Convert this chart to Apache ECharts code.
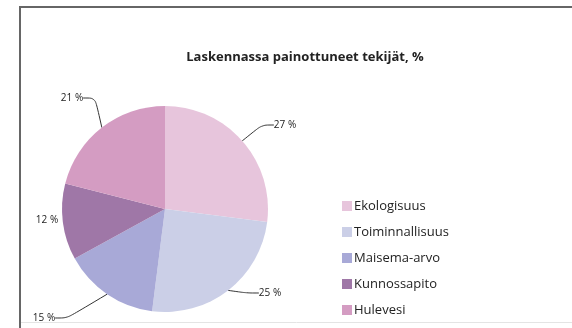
<!DOCTYPE html>
<html>
<head>
<meta charset="utf-8">
<script src="https://cdn.jsdelivr.net/npm/echarts@6/dist/echarts.min.js"></script>
<style>
  html, body { margin: 0; padding: 0; background: #fff; }
  #chart { width: 572px; height: 328px; }
</style>
</head>
<body>
<div id="chart"></div>
<script>
const titleText = 'Laskennassa painottuneet tekijät, %';
const categories = ['Ekologisuus', 'Toiminnallisuus', 'Maisema-arvo', 'Kunnossapito', 'Hulevesi'];
const values = [27, 25, 15, 12, 21];
const colors = ['#e7c5dc', '#cbcfe7', '#a8a9d7', '#9f77a7', '#d49cc2'];

// where each value label sits (label centre), in slice order
const labelSpots = [[285, 125], [270, 293], [44, 318], [47, 220], [72, 98]];
// the Kunnossapito label sits right against its slice, so it gets no leader line
const showLeader = [true, true, true, false, true];

const font = '"Open Sans", "Liberation Sans", sans-serif';
const chart = echarts.init(document.getElementById('chart'));

chart.setOption({
  animation: false,
  color: colors,
  title: {
    text: titleText,
    left: 300,
    top: 46,
    textAlign: 'center',
    textStyle: { fontFamily: font, fontSize: 13, fontWeight: 'bold', color: '#222' }
  },
  legend: {
    orient: 'vertical',
    left: 337,
    top: 192,
    itemWidth: 10,
    itemHeight: 10,
    itemGap: 8,
    icon: 'rect',
    textStyle: { fontFamily: font, fontSize: 13, lineHeight: 18, color: '#222', padding: [0, 0, 0, -3] },
    data: categories
  },
  graphic: [
    { type: 'line', shape: { x1: 20, y1: 7, x2: 20, y2: 328 }, style: { stroke: '#666', lineWidth: 2 } },
    { type: 'line', shape: { x1: 19, y1: 7, x2: 572, y2: 7 }, style: { stroke: '#666', lineWidth: 2 } },
    { type: 'line', shape: { x1: 21, y1: 322.5, x2: 572, y2: 322.5 }, style: { stroke: '#e4e4e4', lineWidth: 1 } }
  ],
  series: [{
    type: 'pie',
    center: [165, 209],
    radius: 103,
    startAngle: 90,
    clockwise: true,
    data: categories.map((c, i) => ({
      name: c,
      value: values[i],
      labelLine: { show: showLeader[i] }
    })),
    label: {
      show: true,
      formatter: '{c} %',
      fontFamily: font,
      fontSize: 10,
      color: '#222'
    },
    labelLine: {
      show: true,
      length: 10,
      length2: 12,
      smooth: 0.3,
      lineStyle: { color: '#333', width: 1 }
    },
    labelLayout: function (p) {
      const s = labelSpots[p.dataIndex];
      return { x: s[0], y: s[1], align: 'center', verticalAlign: 'middle' };
    },
    itemStyle: { borderWidth: 0 },
    emphasis: { disabled: true }
  }]
});
</script>
</body>
</html>
